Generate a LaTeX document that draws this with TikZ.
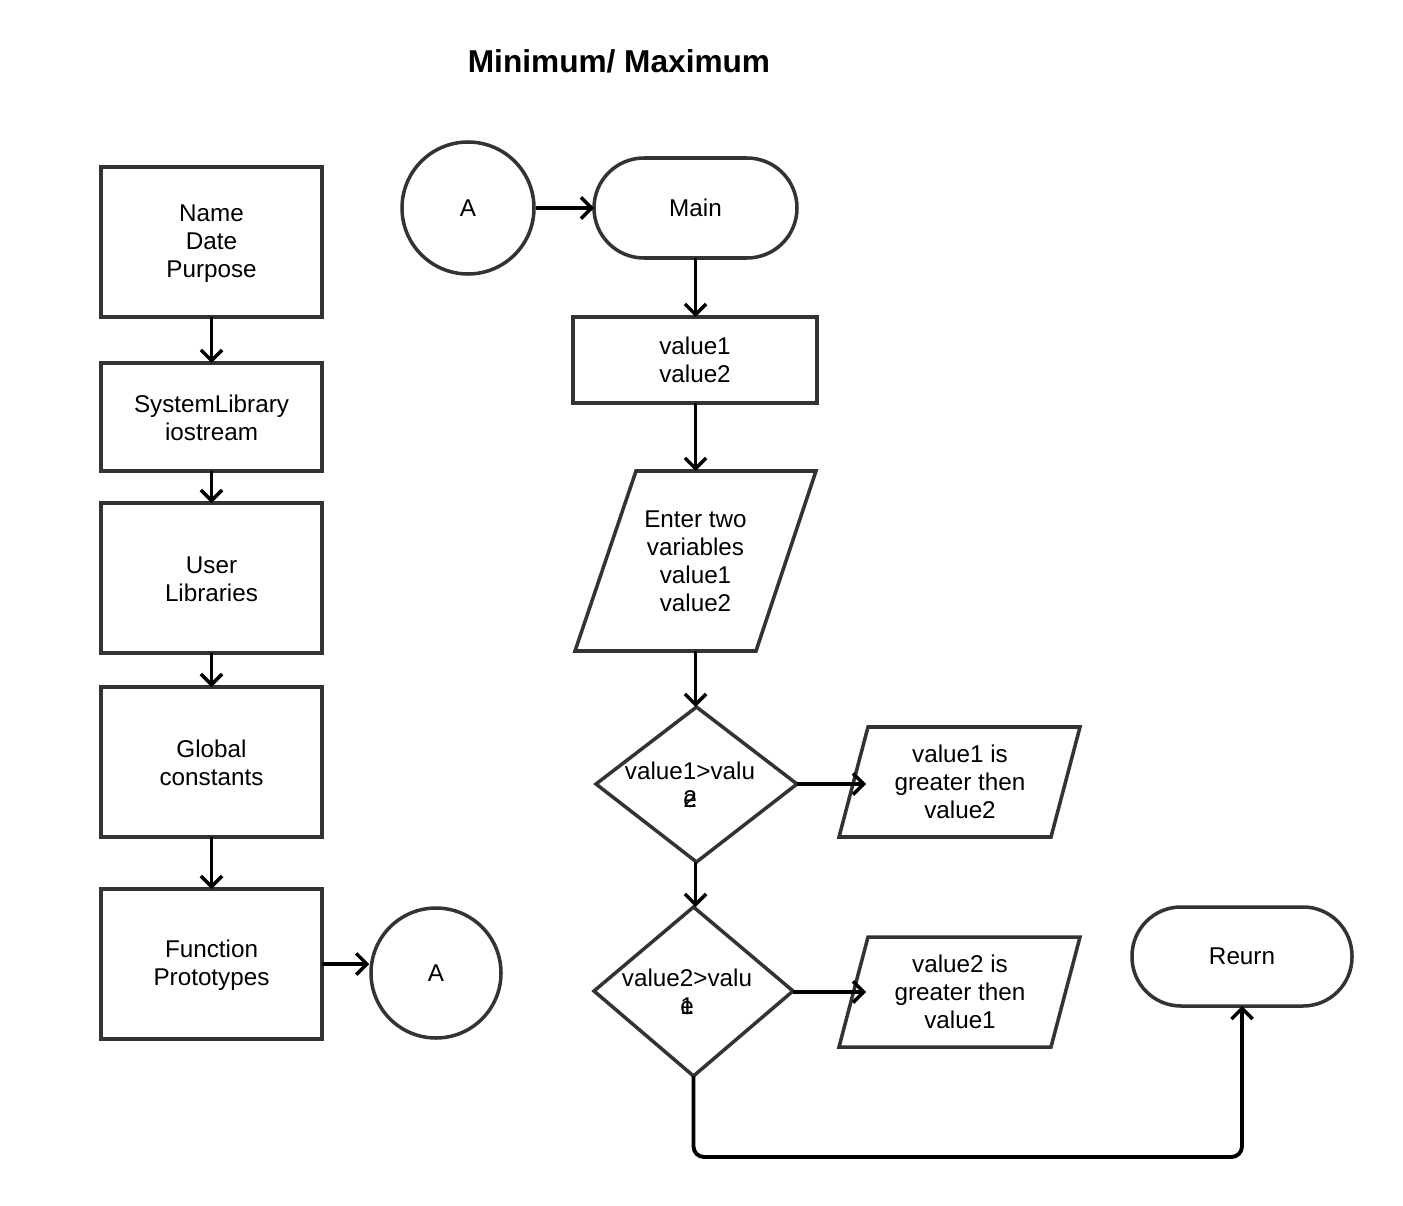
\documentclass[tikz,border=0pt]{standalone}
\usepackage{fontspec}
\setmainfont{Liberation Sans}
\usetikzlibrary{arrows.meta}
\definecolor{edge}{HTML}{333333}
\begin{document}
\begin{tikzpicture}[x=0.02cm,y=-0.02cm,
  txt/.style={align=center,font=\fontsize{13.8}{15.9}\selectfont,inner sep=0pt},
  shp/.style={draw=edge,line width=2pt,fill=white},
  tip/.style={-{Straight Barb[length=6pt,width=12pt,line width=2pt]}},
  conn/.style={line width=2.2pt,draw=black,tip},
  plain/.style={line width=2.2pt,draw=black,rounded corners=6pt}]
\useasboundingbox (0,0) rectangle (1403,1206);
% title
\node[font=\fontsize{18}{21}\selectfont\bfseries,inner sep=0pt] (title) at (619,61) {Minimum/ Maximum};
% left column boxes
\draw[shp] (101,167) rectangle (322,317);
\node[txt] (name) at (211.5,244) {Name\\Date\\Purpose};
\coordinate (nameS) at (211.5,317);
\draw[shp] (101,363) rectangle (322,471);
\node[txt] (sys) at (211.5,418) {SystemLibrary\\iostream};
\coordinate (sysN) at (211.5,363); \coordinate (sysS) at (211.5,471);
\draw[shp] (101,503) rectangle (322,653);
\node[txt] (user) at (211.5,579) {User\\Libraries};
\coordinate (userN) at (211.5,503); \coordinate (userS) at (211.5,653);
\draw[shp] (101,687) rectangle (322,837);
\node[txt] (glob) at (211.5,763) {Global\\constants};
\coordinate (globN) at (211.5,687); \coordinate (globS) at (211.5,837);
\draw[shp] (101,889) rectangle (322,1039);
\node[txt] (func) at (211.5,965) {Function\\Prototypes};
\coordinate (funcN) at (211.5,889); \coordinate (funcE) at (322,964);
% connector circles
\node[shp,circle,minimum size=130*0.02cm,inner sep=0pt,txt] (ca2) at (436,973) {A};
\node[shp,circle,minimum size=132*0.02cm,inner sep=0pt,txt] (ca1) at (468,208) {A};
% main column
\draw[shp,rounded corners=50*0.02cm] (594,158) rectangle (797,258);
\node[txt] (main) at (695.5,208) {Main};
\coordinate (mainW) at (594,208); \coordinate (mainS) at (695.5,258);
\draw[shp] (573,317) rectangle (817,403);
\node[txt] (vars) at (695,360) {value1\\value2};
\coordinate (varsN) at (695.5,317); \coordinate (varsS) at (695.5,403);
\draw[shp] (636,471) -- (816,471) -- (756,651) -- (575,651) -- cycle;
\node[txt] (inp) at (695.5,561) {Enter two\\variables\\value1\\value2};
\coordinate (inpN) at (695.5,471); \coordinate (inpS) at (695.5,651);
\draw[shp] (696.5,707) -- (797,784) -- (696.5,862) -- (596,784) -- cycle;
\node[txt] (d1) at (690,785) {value1>valu\\\makebox[0pt]{e}\makebox[0pt]{2}};
\coordinate (d1N) at (695.5,707); \coordinate (d1E) at (797,784); \coordinate (d1S) at (695.5,862);
\draw[shp] (868,727) -- (1080,727) -- (1051,837) -- (839,837) -- cycle;
\node[txt] (o1) at (960,782) {value1 is\\greater then\\value2};
\coordinate (o1W) at (866,784);
\draw[shp] (693.5,907) -- (793,991) -- (693.5,1076) -- (594,991) -- cycle;
\node[txt] (d2) at (687,992) {value2>valu\\\makebox[0pt]{e}\makebox[0pt]{1}};
\coordinate (d2N) at (695.5,907); \coordinate (d2E) at (793,992); \coordinate (d2S) at (693.5,1076);
\draw[shp] (868,937) -- (1080,937) -- (1051,1047) -- (839,1047) -- cycle;
\node[txt] (o2) at (960,992) {value2 is\\greater then\\value1};
\coordinate (o2W) at (866,992);
\draw[shp,rounded corners=49*0.02cm] (1132,907) rectangle (1352,1006);
\node[txt] (ret) at (1242,956.5) {Reurn};
\coordinate (retS) at (1242,1006);
% connectors
\draw[conn] (nameS) -- (sysN);
\draw[conn] (sysS) -- (userN);
\draw[conn] (userS) -- (globN);
\draw[conn] (globS) -- (funcN);
\draw[conn] (funcE) -- (funcE -| ca2.west);
\draw[conn] (ca1.east) -- (mainW);
\draw[conn] (mainS) -- (varsN);
\draw[conn] (varsS) -- (inpN);
\draw[conn] (inpS) -- (d1N);
\draw[conn] (d1E) -- (o1W);
\draw[conn] (d1S) -- (d2N);
\draw[conn] (d2E) -- (o2W);
\draw[plain,tip] (d2S) -- (693.5,1157) -- (1242,1157) -- (retS);
\end{tikzpicture}
\end{document}
